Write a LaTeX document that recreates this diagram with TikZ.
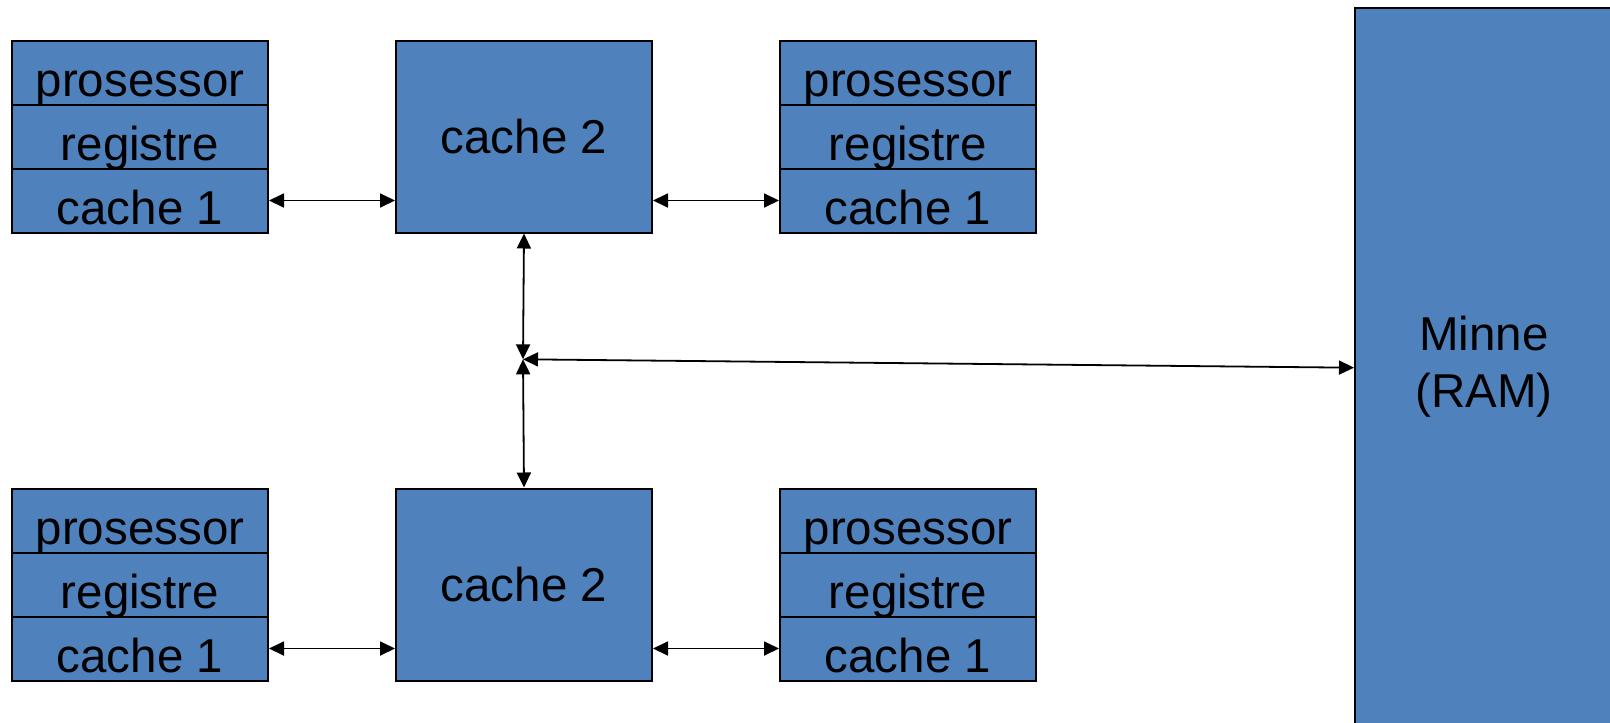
\documentclass[tikz,border=0pt]{standalone}
\usepackage{fontspec}
\setmainfont{Liberation Sans}
\usetikzlibrary{arrows.meta}
\definecolor{boxblue}{RGB}{79,129,189}
\tikzset{
  rowbox/.style={draw=black, line width=2pt, fill=boxblue, anchor=north west,
    minimum width=256pt, minimum height=64pt, inner sep=0pt,
    text height=56pt, text depth=8pt, font=\fontsize{47.5}{57}\selectfont},
  c2box/.style={draw=black, line width=2pt, fill=boxblue, anchor=north west,
    minimum width=256pt, minimum height=192pt, inner sep=0pt,
    font=\fontsize{47.5}{57}\selectfont},
  rambox/.style={draw=black, line width=2pt, fill=boxblue, anchor=north west,
    minimum width=258pt, minimum height=718pt, inner sep=0pt, align=center,
    font=\fontsize{47.5}{57}\selectfont},
  link/.style={line width=1.8pt, {Triangle[length=15pt,width=14pt]}-{Triangle[length=15pt,width=14pt]}}
}
\begin{document}
\begin{tikzpicture}[x=1pt,y=-1pt]
\useasboundingbox (0,0) rectangle (1610,723);
\clip (0,0) rectangle (1610,723);
% top row
\node[rowbox] (tla) at (11,39.5) {prosessor};
\node[rowbox] (tlb) at (11,103.5) {registre};
\node[rowbox] (tlc) at (11,167.5) {cache 1};
\node[c2box] (tc) at (395,39.5) {cache 2};
\node[rowbox] (tra) at (779,39.5) {prosessor};
\node[rowbox] (trb) at (779,103.5) {registre};
\node[rowbox] (trc) at (779,167.5) {cache 1};
% bottom row
\node[rowbox] (bla) at (11,487.5) {prosessor};
\node[rowbox] (blb) at (11,551.5) {registre};
\node[rowbox] (blc) at (11,615.5) {cache 1};
\node[c2box] (bc) at (395,487.5) {cache 2};
\node[rowbox] (bra) at (779,487.5) {prosessor};
\node[rowbox] (brb) at (779,551.5) {registre};
\node[rowbox] (brc) at (779,615.5) {cache 1};
% RAM
\node[rambox] (ram) at (1354,7) {Minne\\(RAM)};
% connectors
\coordinate (J) at (523,359.3);
\coordinate (ramin) at (1354,367.7);
\draw[link] (tlc.east) -- (tlc.east -| tc.west);
\draw[link] (trc.west -| tc.east) -- (trc.west);
\draw[link] (blc.east) -- (blc.east -| bc.west);
\draw[link] (brc.west -| bc.east) -- (brc.west);
\draw[link] (tc.south) -- (J);
\draw[link] (J) -- (bc.north);
\draw[link] (J) -- (ramin);
\end{tikzpicture}
\end{document}
